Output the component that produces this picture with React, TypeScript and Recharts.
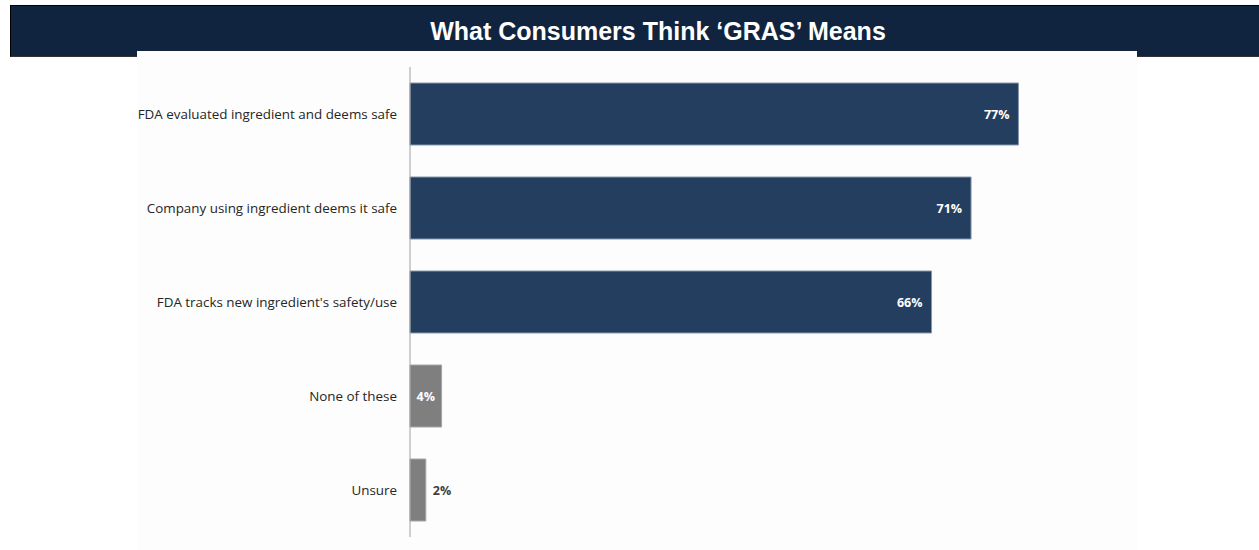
import { BarChart, Bar, XAxis, YAxis, Cell, LabelList } from "recharts"

const TITLE = "What Consumers Think \u2018GRAS\u2019 Means"

const CATEGORIES = [
  "FDA evaluated ingredient and deems safe",
  "Company using ingredient deems it safe",
  "FDA tracks new ingredient's safety/use",
  "None of these",
  "Unsure",
]

const VALUES = [77, 71, 66, 4, 2]

const NAVY = "#243e60"
const GREY = "#7f7f7f"
const FONT = "'Open Sans', Calibri, sans-serif"

const data = CATEGORIES.map((name, i) => ({ name, value: VALUES[i] }))

const ValueLabel = (props: any) => {
  const { x, y, width, height, value } = props
  const cy = y + height / 2
  let tx = x + width + 7
  let anchor = "start"
  let fill = "#404040"
  if (value >= 10) {
    tx = x + width - 9
    anchor = "end"
    fill = "#ffffff"
  } else if (value >= 4) {
    tx = x + width / 2
    anchor = "middle"
    fill = "#ffffff"
  }
  return (
    <text x={tx} y={cy} textAnchor={anchor} dominantBaseline="central"
      fill={fill} fontWeight={700} fontSize={12.5} fontFamily={FONT}>
      {value}%
    </text>
  )
}

export default function App() {
  return (
    <div style={{ position: "absolute", left: 0, top: 0, width: 1259, height: 550, background: "#ffffff", overflow: "hidden" }}>
      {/* header band */}
      <div style={{
        position: "absolute", left: 10, top: 5, width: 1260, height: 52,
        background: "#11243f", borderTop: "1px solid #000", borderLeft: "1px solid #000",
        borderBottom: "1px solid #333", boxSizing: "border-box",
      }} />
      <div style={{
        position: "absolute", left: 158, top: 5, width: 1000, height: 46,
        textAlign: "center", lineHeight: "52px", color: "#ffffff",
        fontFamily: "Arial, 'Liberation Sans', sans-serif", fontWeight: 700, fontSize: 25,
      }}>
        {TITLE}
      </div>
      {/* white panel */}
      <div style={{ position: "absolute", left: 137, top: 51, width: 1000, height: 499, background: "#fdfdfd" }}>
        <BarChart
          width={1000}
          height={499}
          data={data}
          layout="vertical"
          barSize={62}
          margin={{ top: 16, right: 0, bottom: 13, left: 0 }}
        >
          <XAxis type="number" domain={[0, 92]} hide />
          <YAxis
            type="category"
            dataKey="name"
            width={273}
            tickLine={false}
            tickSize={0}
            tickMargin={13}
            axisLine={{ stroke: "#a0a0a0" }}
            tick={{ fontSize: 13.4, fill: "#262626", fontFamily: FONT }}
          />
          <Bar dataKey="value" isAnimationActive={false} strokeWidth={1}>
            {VALUES.map((v, i) => (
              <Cell key={i} fill={v >= 10 ? NAVY : GREY} stroke={v >= 10 ? "#8797ad" : "#a6a6a6"} />
            ))}
            <LabelList dataKey="value" content={<ValueLabel />} />
          </Bar>
        </BarChart>
      </div>
    </div>
  )
}
